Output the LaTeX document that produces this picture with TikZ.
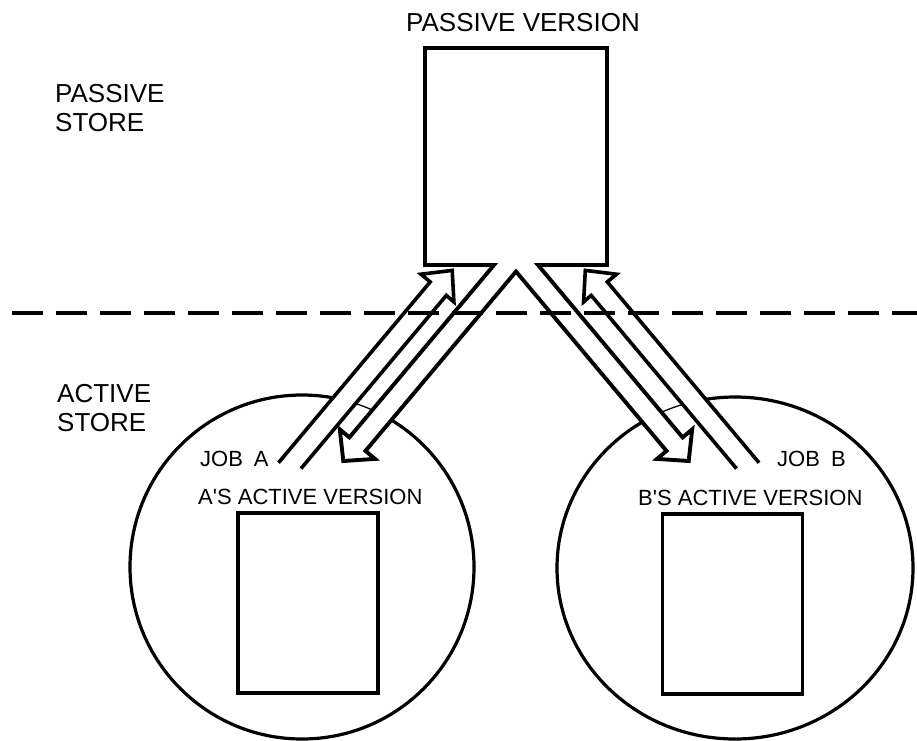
\documentclass[tikz,border=0pt]{standalone}
\usepackage{fontspec}
\setmainfont{Liberation Sans}
\begin{document}
\begin{tikzpicture}[x=1pt,y=-1pt,
  outl/.style={line width=3.6pt, line join=miter, miter limit=10},
  circl/.style={line width=3.2pt},
  thinl/.style={line width=1.3pt},
  dashl/.style={line width=3.4pt, dash pattern=on 31pt off 13pt},
  bigtxt/.style={font=\fontsize{26}{30}\selectfont, inner sep=0pt, anchor=base west},
  smalltxt/.style={font=\fontsize{22}{26}\selectfont, inner sep=0pt, anchor=base west},
  rectbox/.style={draw, line width=3.8pt, minimum width=140pt, minimum height=180pt, inner sep=0pt}
]
\useasboundingbox (0,0) rectangle (917,740);

% passive box corners
\coordinate (bNW) at (425,48);
\coordinate (bNE) at (607,48);
\coordinate (bSW) at (425,265);
\coordinate (bSE) at (607,265);
% down arrows (from passive box)
\coordinate (dLs)  at (494,265);
\coordinate (dLnl) at (349.4,437.4);
\coordinate (dLbl) at (339.8,429.3);
\coordinate (dLtp) at (343.3,461.0);
\coordinate (dLbr) at (375.0,458.9);
\coordinate (dLnr) at (365.5,450.9);
\coordinate (apex) at (516,271.5);
\coordinate (dRnr) at (666.5,450.9);
\coordinate (dRbr) at (657.0,458.9);
\coordinate (dRtp) at (688.7,461.0);
\coordinate (dRbl) at (692.2,429.3);
\coordinate (dRnl) at (682.6,437.4);
\coordinate (dRs)  at (538,265);
% up arrow from job A
\coordinate (uAtl) at (278.5,462.7);
\coordinate (uAnl) at (430.2,281.9);
\coordinate (uAbl) at (421.0,274.2);
\coordinate (uAtp) at (452.2,270.4);
\coordinate (uAbr) at (453.9,301.9);
\coordinate (uAnr) at (446.3,295.4);
\coordinate (uAtr) at (301.0,468.6);
% up arrow from job B
\coordinate (uBtl) at (759.0,462.7);
\coordinate (uBnl) at (607.3,281.9);
\coordinate (uBbl) at (616.5,274.2);
\coordinate (uBtp) at (585.3,270.4);
\coordinate (uBbr) at (583.6,301.9);
\coordinate (uBnr) at (591.2,295.4);
\coordinate (uBtr) at (736.5,468.6);
% circle centres
\coordinate (cA) at (302,567);
\coordinate (cB) at (735,568);

% active store circles
\draw[circl] (cA) circle[radius=172pt];
\draw[circl] (cB) ellipse[x radius=178pt, y radius=171pt];

% hide circles inside the arrows
\fill[white] (uAtl) -- (uAnl) -- (uAbl) -- (uAtp) -- (uAbr) -- (uAnr) -- (uAtr) -- cycle;
\fill[white] (uBtl) -- (uBnl) -- (uBbl) -- (uBtp) -- (uBbr) -- (uBnr) -- (uBtr) -- cycle;
\fill[white] (dLs) -- (dLnl) -- (dLbl) -- (dLtp) -- (dLbr) -- (dLnr) -- (apex)
  -- (dRnr) -- (dRbr) -- (dRtp) -- (dRbl) -- (dRnl) -- (dRs) -- (bSE) -- (bNE) -- (bNW) -- (bSW) -- cycle;

% thin arcs in the gaps between arrows
\begin{scope}
  \clip (340.85,421.06) -- (353.87,431.99) -- (391.15,387.56) -- (378.13,376.63) -- cycle;
  \fill[white] (300,350) rectangle (420,460);
  \draw[thinl] (cA) circle[radius=172pt];
\end{scope}
\begin{scope}
  \clip (696.65,421.06) -- (678.13,431.99) -- (640.87,387.56) -- (659.37,376.63) -- cycle;
  \fill[white] (620,350) rectangle (720,460);
  \draw[thinl] (cB) ellipse[x radius=178pt, y radius=171pt];
\end{scope}

% boundary between passive and active store
\coordinate (dashW) at (12,313);
\coordinate (dashE) at (917,313);
\draw[dashl] (dashW) -- (dashE);

% arrow outlines and passive box
\draw[outl] (uAtl) -- (uAnl) -- (uAbl) -- (uAtp) -- (uAbr) -- (uAnr) -- (uAtr);
\draw[outl] (uBtl) -- (uBnl) -- (uBbl) -- (uBtp) -- (uBbr) -- (uBnr) -- (uBtr);
\draw[outl, line width=3.9pt] (dLs) -- (dLnl) -- (dLbl) -- (dLtp) -- (dLbr) -- (dLnr) -- (apex)
  -- (dRnr) -- (dRbr) -- (dRtp) -- (dRbl) -- (dRnl) -- (dRs) -- (bSE) -- (bNE) -- (bNW) -- (bSW) -- cycle;

% active versions
\node[rectbox] (verA) at (308,603) {};
\node[rectbox] (verB) at (732.5,604) {};

% labels
\node[bigtxt] (tPV) at (406,31) {PASSIVE VERSION};
\node[bigtxt] (tPS1) at (55,102) {PASSIVE};
\node[bigtxt] (tPS2) at (55,131) {STORE};
\node[bigtxt] (tAS1) at (57,402) {ACTIVE};
\node[bigtxt] (tAS2) at (57,431) {STORE};
\node[smalltxt] (tJA) at (200,466) {JOB\hspace{0.5em}A};
\node[smalltxt] (tJB) at (777,466) {JOB\hspace{0.5em}B};
\node[smalltxt] (tVA) at (198,504) {A\textquotesingle S ACTIVE VERSION};
\node[smalltxt] (tVB) at (638,505) {B\textquotesingle S ACTIVE VERSION};
\end{tikzpicture}
\end{document}
